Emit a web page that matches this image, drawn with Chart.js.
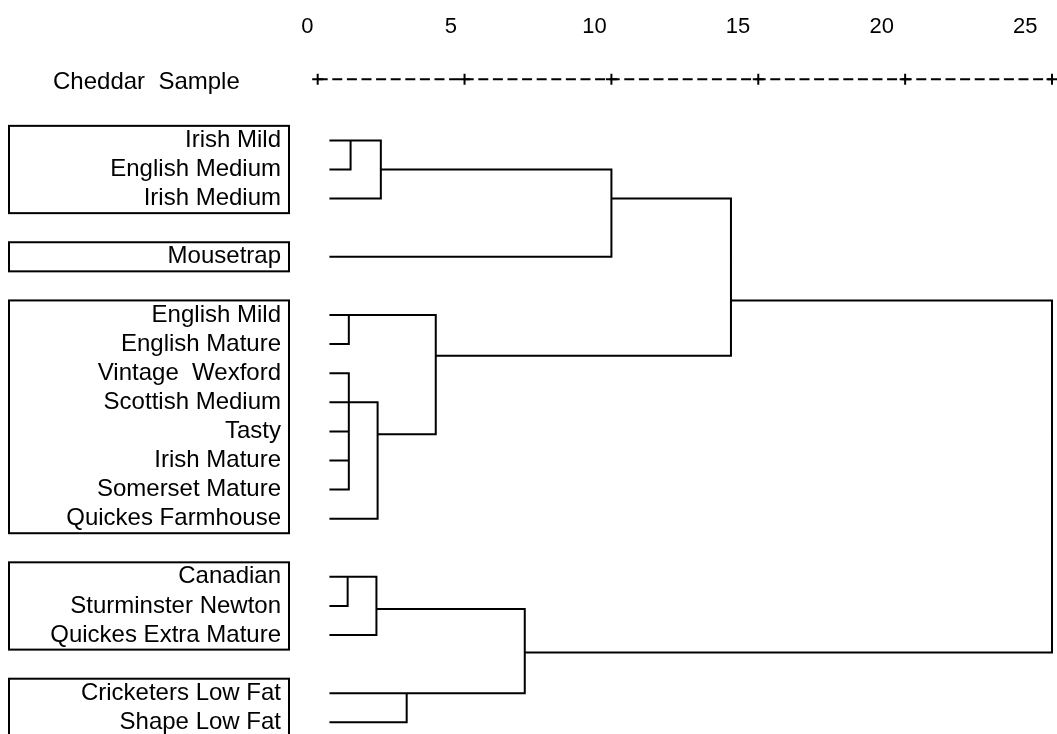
<!DOCTYPE html>
<html>
<head>
<meta charset="utf-8">
<title>Cheddar Sample dendrogram</title>
<script src="https://cdn.jsdelivr.net/npm/chart.js@4.4.1/dist/chart.umd.min.js"></script>
<style>
	html, body { margin: 0; padding: 0; background: #fff; }
	#wrap { width: 1057px; height: 734px; position: relative; }
</style>
</head>
<body>
<div id="wrap"><canvas id="dendro"></canvas></div>
<script>
(function() {
	"use strict";

	// leaves, top to bottom, and the text row each one sits on
	var leafNames = ["Irish Mild", "English Medium", "Irish Medium", "Mousetrap",
		"English Mild", "English Mature", "Vintage  Wexford", "Scottish Medium", "Tasty",
		"Irish Mature", "Somerset Mature", "Quickes Farmhouse",
		"Canadian", "Sturminster Newton", "Quickes Extra Mature",
		"Cricketers Low Fat", "Shape Low Fat"];
	var leafRows = [0, 1, 2, 4, 6, 7, 8, 9, 10, 11, 12, 13, 15, 16, 17, 19, 20];

	// boxed groups of leaves (first and last leaf index)
	var groups = [[0, 2], [3, 3], [4, 11], [12, 14], [15, 16]];

	// merges: ids 0..16 are leaves, merge i gets id 17 + i
	var mergeChildren = [[0, 1], [17, 2], [18, 3], [4, 5], [6, 7, 8, 9, 10], [21, 11],
		[20, 22], [19, 23], [12, 13], [25, 14], [15, 16], [26, 27], [24, 28]];
	var mergeHeights = [1.12, 2.15, 10.0, 1.06, 1.06, 2.04, 4.02, 14.07, 1.02, 2.0, 3.03, 7.05, 25];
	var mergeRows = [0, 1, 2, 6, 9, 10.1, 7.4, 5.5, 15, 16.1, 19, 17.6, null];

	// rescaled distance axis
	var scaleTicks = [0, 5, 10, 15, 20, 25];
	var leafStart = 0.4;
	var headerRow = -2;
	var axisRow = -2.1;
	var headerText = "Cheddar  Sample";

	var FONT = "'Liberation Sans', Arial, Helvetica, sans-serif";

	function nodeX(id) {
		return id < leafNames.length ? leafStart : mergeHeights[id - leafNames.length];
	}
	function nodeRow(id) {
		return id < leafNames.length ? leafRows[id] : mergeRows[id - leafNames.length];
	}

	// every merge as a bracket, with gaps between them
	var treePoints = [];
	mergeChildren.forEach(function(kids, i) {
		var h = mergeHeights[i];
		var sorted = kids.slice().sort(function(a, b) { return nodeRow(a) - nodeRow(b); });
		var top = sorted[0];
		var bottom = sorted[sorted.length - 1];
		treePoints.push({x: nodeX(top), y: nodeRow(top)}, {x: h, y: nodeRow(top)},
			{x: h, y: nodeRow(bottom)}, {x: nodeX(bottom), y: nodeRow(bottom)}, {x: h, y: null});
		sorted.slice(1, -1).forEach(function(k) {
			treePoints.push({x: nodeX(k), y: nodeRow(k)}, {x: h, y: nodeRow(k)}, {x: h, y: null});
		});
	});

	var axisLine = [{x: scaleTicks[0], y: axisRow}, {x: scaleTicks[scaleTicks.length - 1], y: axisRow}];
	var axisCrosses = scaleTicks.map(function(v) { return {x: v, y: axisRow}; });

	var boxPlugin = {
		id: "leafBoxes",
		afterDraw: function(chart, args, opts) {
			var ctx = chart.ctx;
			var y = chart.scales.y;
			ctx.save();
			ctx.strokeStyle = "#000";
			ctx.lineWidth = 2;
			groups.forEach(function(g) {
				var top = y.getPixelForValue(leafRows[g[0]] - 0.5);
				var bottom = y.getPixelForValue(leafRows[g[1]] + 0.5);
				ctx.strokeRect(opts.left, top, opts.right - opts.left, bottom - top);
			});
			ctx.font = "24px " + FONT;
			ctx.fillStyle = "#000";
			ctx.textAlign = "left";
			ctx.textBaseline = "middle";
			ctx.fillText(headerText, opts.headerX, y.getPixelForValue(headerRow));
			ctx.restore();
		}
	};

	document.addEventListener("DOMContentLoaded", function() {
		var ctx = document.getElementById("dendro").getContext("2d");

		new Chart(ctx, {
			type: "scatter",
			data: {
				datasets: [{
					label: "tree",
					data: treePoints,
					showLine: true,
					spanGaps: false,
					borderColor: "#000",
					borderWidth: 2,
					pointRadius: 0,
					tension: 0,
					clip: false
				}, {
					label: "axis",
					data: axisLine,
					showLine: true,
					borderColor: "#000",
					borderWidth: 2,
					borderDash: [10, 4.6],
					pointRadius: 0,
					clip: false
				}, {
					label: "ticks",
					data: axisCrosses,
					showLine: false,
					pointStyle: "cross",
					pointRadius: 5.5,
					pointBorderWidth: 2,
					pointBorderColor: "#000",
					pointBackgroundColor: "#000",
					clip: false
				}]
			},
			options: {
				responsive: true,
				maintainAspectRatio: false,
				animation: false,
				layout: { padding: 0, autoPadding: false },
				plugins: {
					legend: { display: false },
					tooltip: { enabled: false },
					leafBoxes: { left: 9, right: 289, headerX: 53 }
				},
				scales: {
					x: {
						type: "linear",
						display: false,
						min: -0.5,
						max: 25.17
					},
					x2: {
						type: "linear",
						position: "top",
						min: -0.148,
						max: 26.106,
						grid: { display: false, drawTicks: false },
						border: { display: false },
						afterBuildTicks: function(s) {
							s.ticks = scaleTicks.map(function(v) { return {value: v}; });
						},
						afterFit: function(s) {
							s.height = 55;
							s.paddingLeft = 0;
							s.paddingRight = 0;
						},
						ticks: {
							color: "#000",
							font: { family: FONT, size: 22 },
							padding: 15,
							maxRotation: 0,
							autoSkip: false
						}
					},
					y: {
						type: "linear",
						reverse: true,
						min: -2.935,
						max: 20.4,
						grid: { display: false, drawTicks: false },
						border: { display: false },
						afterBuildTicks: function(s) {
							s.ticks = leafRows.map(function(r) { return {value: r}; });
						},
						afterFit: function(s) {
							s.width = 303;
							s.paddingTop = 0;
							s.paddingBottom = 0;
						},
						ticks: {
							color: "#000",
							font: { family: FONT, size: 24 },
							padding: 22,
							autoSkip: false,
							callback: function(value, index) {
								return leafNames[index];
							}
						}
					}
				}
			},
			plugins: [boxPlugin]
		});
	});
})();
</script>
</body>
</html>
